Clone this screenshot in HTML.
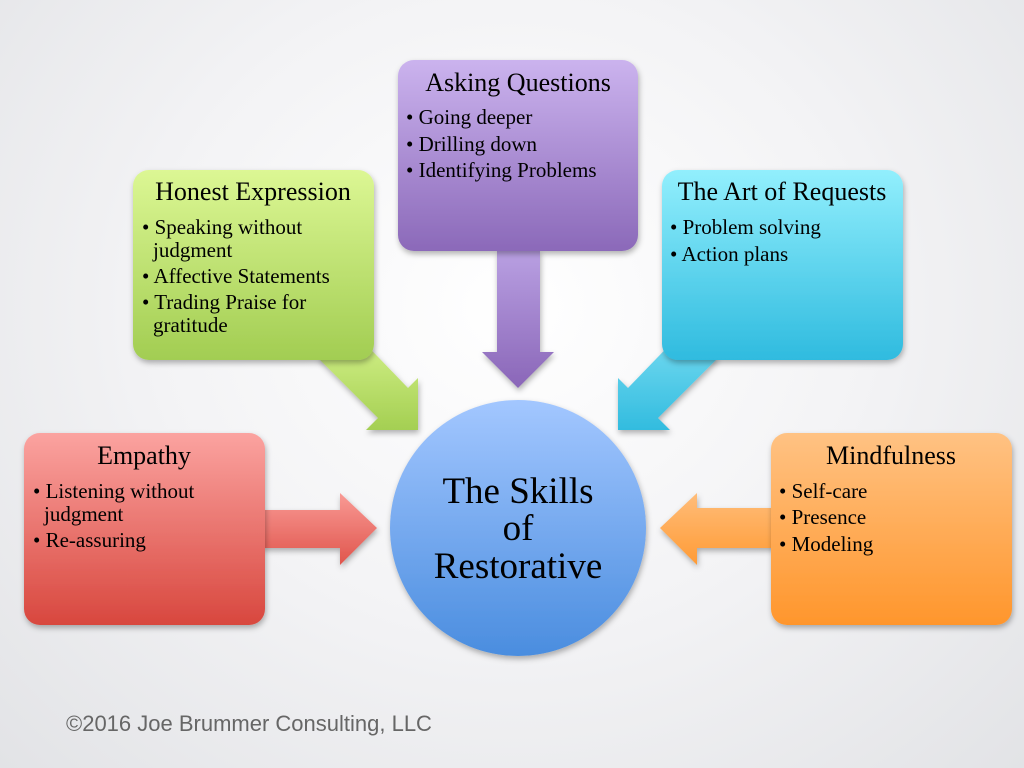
<!DOCTYPE html>
<html><head><meta charset="utf-8"><style>
html,body{margin:0;padding:0;width:1024px;height:768px;overflow:hidden}
body{background:radial-gradient(ellipse at 50% 40%,#ffffff 0%,#f3f3f5 50%,#e2e3e6 100%)}
svg{position:absolute;left:0;top:0}
text{font-family:"Liberation Serif",serif;fill:#000}
.t{font-size:26px}
.b{font-size:21px}
</style></head><body>
<svg width="1024" height="768" viewBox="0 0 1024 768">
<defs>
<linearGradient id="gp" x1="0" y1="0" x2="0" y2="1"><stop offset="0" stop-color="#cbb3ee"/><stop offset="1" stop-color="#8b69b9"/></linearGradient>
<linearGradient id="gg" x1="0" y1="0" x2="0" y2="1"><stop offset="0" stop-color="#dcf794"/><stop offset="1" stop-color="#a2cd52"/></linearGradient>
<linearGradient id="gc" x1="0" y1="0" x2="0" y2="1"><stop offset="0" stop-color="#92effd"/><stop offset="1" stop-color="#2fbbdf"/></linearGradient>
<linearGradient id="gr" x1="0" y1="0" x2="0" y2="1"><stop offset="0" stop-color="#fba3a0"/><stop offset="1" stop-color="#d8473e"/></linearGradient>
<linearGradient id="go" x1="0" y1="0" x2="0" y2="1"><stop offset="0" stop-color="#ffc283"/><stop offset="1" stop-color="#ff962c"/></linearGradient>
<linearGradient id="gb" x1="0" y1="0" x2="0" y2="1"><stop offset="0" stop-color="#a3c7ff"/><stop offset="1" stop-color="#4a8ddf"/></linearGradient>
<linearGradient id="apu" x1="0" y1="0" x2="0" y2="1"><stop offset="0" stop-color="#b9a0e2"/><stop offset="1" stop-color="#8a66b8"/></linearGradient>
<linearGradient id="agr" x1="0" y1="0" x2="0" y2="1"><stop offset="0" stop-color="#d6f38c"/><stop offset="1" stop-color="#a4cf52"/></linearGradient>
<linearGradient id="acy" x1="0" y1="0" x2="0" y2="1"><stop offset="0" stop-color="#78dcf2"/><stop offset="1" stop-color="#32bcdf"/></linearGradient>
<linearGradient id="are" x1="0" y1="0" x2="0" y2="1"><stop offset="0" stop-color="#f99a95"/><stop offset="1" stop-color="#e0554c"/></linearGradient>
<linearGradient id="aor" x1="0" y1="0" x2="0" y2="1"><stop offset="0" stop-color="#ffbd7a"/><stop offset="1" stop-color="#ff9b35"/></linearGradient>
<filter id="sh" x="-10%" y="-10%" width="130%" height="130%"><feDropShadow dx="1" dy="3" stdDeviation="3" flood-color="#000" flood-opacity="0.3"/></filter>
</defs>
<g filter="url(#sh)">
<polygon points="497,250 540,250 540,352 554,352 518,388 482,352 497,352" fill="url(#apu)"/>
<polygon points="318,358 352,330 408,388 418,378 418,430 366,430 378,418" fill="url(#agr)"/>
<polygon points="718,358 684,330 628,388 618,378 618,430 670,430 658,418" fill="url(#acy)"/>
<polygon points="262,510 340,510 340,493 377,528 340,565 340,548 262,548" fill="url(#are)"/>
<polygon points="775,508 697,508 697,493 660,528 697,565 697,548 775,548" fill="url(#aor)"/>
</g>
<g filter="url(#sh)">
<rect x="398" y="60" width="240" height="191" rx="16" fill="url(#gp)"/>
<rect x="133" y="170" width="241" height="190" rx="16" fill="url(#gg)"/>
<rect x="662" y="170" width="241" height="190" rx="16" fill="url(#gc)"/>
<rect x="24" y="433" width="241" height="192" rx="16" fill="url(#gr)"/>
<rect x="771" y="433" width="241" height="192" rx="16" fill="url(#go)"/>
<circle cx="518" cy="528" r="128" fill="url(#gb)"/>
</g>
<text class="t" x="518" y="91" text-anchor="middle">Asking Questions</text>
<text class="b" x="406" y="124">• Going deeper</text>
<text class="b" x="406" y="151">• Drilling down</text>
<text class="b" x="406" y="177">• Identifying Problems</text>

<text class="t" x="253" y="200" text-anchor="middle">Honest Expression</text>
<text class="b" x="142" y="234">• Speaking without</text>
<text class="b" x="153" y="257">judgment</text>
<text class="b" x="142" y="283">• Affective Statements</text>
<text class="b" x="142" y="309">• Trading Praise for</text>
<text class="b" x="153" y="332">gratitude</text>

<text class="t" x="782" y="200" text-anchor="middle">The Art of Requests</text>
<text class="b" x="670" y="234">• Problem solving</text>
<text class="b" x="670" y="261">• Action plans</text>

<text class="t" x="144" y="464" text-anchor="middle">Empathy</text>
<text class="b" x="33" y="498">• Listening without</text>
<text class="b" x="44" y="521">judgment</text>
<text class="b" x="33" y="547">• Re-assuring</text>

<text class="t" x="891" y="464" text-anchor="middle">Mindfulness</text>
<text class="b" x="779" y="498">• Self-care</text>
<text class="b" x="779" y="524">• Presence</text>
<text class="b" x="779" y="551">• Modeling</text>

<text x="518" y="503" text-anchor="middle" style="font-size:37px">The Skills</text>
<text x="518" y="540" text-anchor="middle" style="font-size:37px">of</text>
<text x="518" y="578" text-anchor="middle" style="font-size:37px">Restorative</text>

<text x="66" y="731" style="font-family:'Liberation Sans',sans-serif;font-size:22px;fill:#666">©2016 Joe Brummer Consulting, LLC</text>
</svg>
</body></html>
